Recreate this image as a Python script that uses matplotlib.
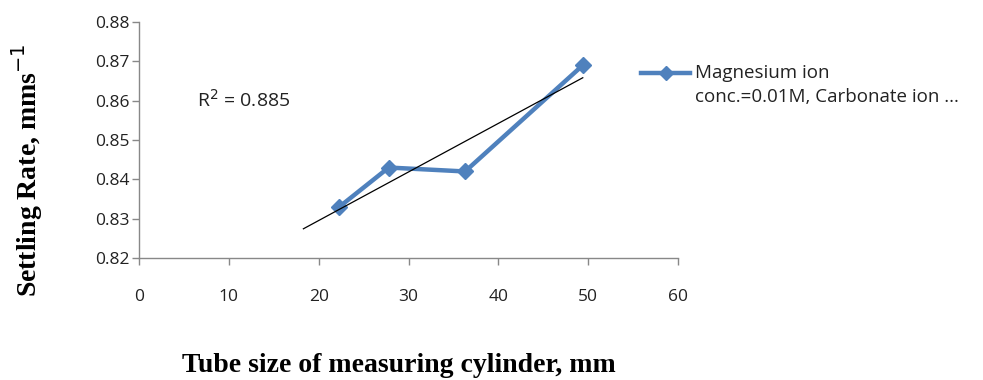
import numpy as np
import matplotlib
matplotlib.use("Agg")
import matplotlib.pyplot as plt
from matplotlib.lines import Line2D

tube_size = [22.3, 27.8, 36.3, 49.4]
settling_rate = [0.833, 0.843, 0.842, 0.869]
x_ticks = [0, 10, 20, 30, 40, 50, 60]
y_ticks = [0.82, 0.83, 0.84, 0.85, 0.86, 0.87, 0.88]
legend_lines = ["Magnesium ion", "conc.=0.01M, Carbonate ion ..."]
r2_text = "R$^2$ = 0.885"
backward = 4.0

blue = "#4F81BD"
sans = ["Open Sans", "DejaVu Sans"]
W, H = 983, 380

fig = plt.figure(figsize=(9.83, 3.8), dpi=100)
ax = fig.add_axes([139 / W, 1 - 258 / H, (678 - 139) / W, (258 - 22) / H])

ax.plot(tube_size, settling_rate, color=blue, lw=3.2, marker="D", ms=8,
        mfc=blue, mec=blue, zorder=2)

slope, intercept = np.polyfit(tube_size, settling_rate, 1)
xt = np.array([min(tube_size) - backward, max(tube_size)])
ax.plot(xt, slope * xt + intercept, color="black", lw=0.9, zorder=3)

ax.set_xlim(0, 60)
ax.set_ylim(0.82, 0.88)
ax.set_xticks(x_ticks)
ax.set_yticks(y_ticks)
ax.set_xticklabels([str(v) for v in x_ticks], family=sans, fontsize=12.5, color="#222222")
ax.set_yticklabels([f"{v:.2f}" for v in y_ticks], family=sans, fontsize=12.5, color="#222222")
for s in ["top", "right"]:
    ax.spines[s].set_visible(False)
for s in ["left", "bottom"]:
    ax.spines[s].set_color("#888888")
    ax.spines[s].set_linewidth(1.0)
ax.tick_params(axis="both", direction="out", length=5, color="#888888", width=1.0)
ax.tick_params(axis="x", pad=17)
ax.tick_params(axis="y", pad=2)

fig.text(197 / W, 1 - 100 / H, r2_text, fontsize=14, family=sans,
         ha="left", va="center", color="#222222")

fig.text(27 / W, 1 - 170 / H, "Settling Rate, mms$^{-1}$", rotation=90, ha="center",
         va="center", fontsize=20, fontweight="bold", family="Liberation Serif")
fig.text(399 / W, 2 / H, "Tube size of measuring cylinder, mm", ha="center",
         va="bottom", fontsize=20, fontweight="bold", family="Liberation Serif")

# legend drawn in figure coordinates
ly = 1 - 73 / H
fig.add_artist(Line2D([641 / W, 690 / W], [ly, ly], color=blue, lw=3.2,
                      transform=fig.transFigure))
fig.add_artist(Line2D([665.5 / W], [ly], color=blue, marker="D", ms=7, mfc=blue,
                      mec=blue, transform=fig.transFigure))
fig.text(695 / W, ly, legend_lines[0], fontsize=13.5, family=sans,
         ha="left", va="center", color="#222222")
fig.text(695 / W, 1 - 97 / H, legend_lines[1], fontsize=13.5, family=sans,
         ha="left", va="center", color="#222222")

fig.savefig("out.png", dpi=100)
